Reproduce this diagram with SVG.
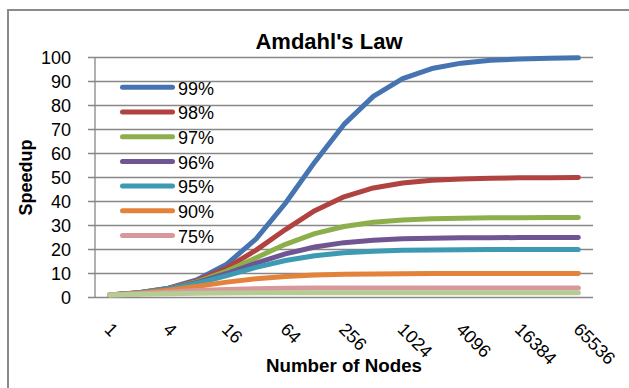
<svg xmlns="http://www.w3.org/2000/svg" width="629" height="388" viewBox="0 0 629 388">
  <style>
    text { font-family: "Liberation Sans", Arial, sans-serif; fill: #000; }
    .tick { font-size: 18px; }
    .ylab { text-anchor: end; }
    .title { font-size: 22px; font-weight: bold; text-anchor: middle; }
    .axt { font-size: 18px; font-weight: bold; text-anchor: middle; }
    .grid { stroke: #878787; stroke-width: 1.3; fill: none; }
    .frame { stroke: #8a8a8a; stroke-width: 2; fill: #fff; }
    .s { fill: none; stroke-width: 5; stroke-linecap: round; stroke-linejoin: round; }
    .p99 { stroke: #4674B1; }
    .p98 { stroke: #B0423F; }
    .p97 { stroke: #8DAF4B; }
    .p96 { stroke: #6F5591; }
    .p95 { stroke: #3C9AB3; }
    .p90 { stroke: #E3823A; }
    .p75 { stroke: #D8979A; }
    .p50 { stroke: #B5CC93; }
  </style>

  <rect width="629" height="388" fill="#fff"/>
  <!-- chart frame (right and bottom edges run past the canvas) -->
  <rect id="frame" class="frame" x="8" y="10" width="640" height="400"/>

  <text id="title" class="title" x="329" y="48.5">Amdahl's Law</text>

  <!-- horizontal gridlines with ticks, 0..100 step 10 -->
  <g id="gridlines" class="grid">
    <path d="M88 57.5H593M88 81.5H593M88 105.5H593M88 129.5H593M88 153.5H593M88 177.5H593M88 201.5H593M88 225.5H593M88 249.5H593M88 273.5H593M88 297.5H593"/>
    <path d="M95 57.5V297.5"/>
  </g>

  <g id="y-labels" class="tick ylab">
    <text x="71" y="63.8">100</text>
    <text x="71" y="87.8">90</text>
    <text x="71" y="111.8">80</text>
    <text x="71" y="135.8">70</text>
    <text x="71" y="159.8">60</text>
    <text x="71" y="183.8">50</text>
    <text x="71" y="207.8">40</text>
    <text x="71" y="231.8">30</text>
    <text x="71" y="255.8">20</text>
    <text x="71" y="279.8">10</text>
    <text x="71" y="303.8">0</text>
  </g>

  <g id="x-labels" class="tick">
    <text transform="translate(103.6 330.5) rotate(45)">1</text>
    <text transform="translate(162.2 330.5) rotate(45)">4</text>
    <text transform="translate(220.8 330.5) rotate(45)">16</text>
    <text transform="translate(279.4 330.5) rotate(45)">64</text>
    <text transform="translate(338.0 330.5) rotate(45)">256</text>
    <text transform="translate(396.6 330.5) rotate(45)">1024</text>
    <text transform="translate(455.2 330.5) rotate(45)">4096</text>
    <text transform="translate(513.8 330.5) rotate(45)">16384</text>
    <text transform="translate(572.4 330.5) rotate(45)">65536</text>
  </g>

  <text id="y-title" class="axt" font-size="17" transform="translate(31.5 177.5) rotate(-90)">Speedup</text>
  <text id="x-title" class="axt" x="344" y="371.5" textLength="156" lengthAdjust="spacingAndGlyphs">Number of Nodes</text>

  <!-- speedup series, S = 1/((1-p)+p/N), N = 1..65536 -->
  <g id="series">
    <polyline id="s99" class="s p99" points="109.65,295.1 138.94,292.75 168.24,288.18 197.53,279.56 226.83,264.11 256.12,238.87 285.41,203.27 314.71,162.17 344.00,124.43 373.30,96.38 402.59,78.67 431.88,68.56 461.18,63.16 490.47,60.36 519.77,58.94 549.06,58.22 578.35,57.86"/>
    <polyline id="s98" class="s p98" points="109.65,295.1 138.94,292.79 168.24,288.44 197.53,280.66 226.83,267.96 256.12,250.09 285.41,229.53 314.71,210.72 344.00,196.78 373.30,187.98 402.59,182.98 431.88,180.31 461.18,178.92 490.47,178.22 519.77,177.86 549.06,177.67 578.35,177.60"/>
    <polyline id="s97" class="s p97" points="109.65,295.1 138.94,292.84 168.24,288.69 197.53,281.63 226.83,271.02 256.12,257.71 285.41,244.35 314.71,233.63 344.00,226.47 373.30,222.25 402.59,219.95 431.88,218.74 461.18,218.13 490.47,217.82 519.77,217.66 549.06,217.58 578.35,217.54"/>
    <polyline id="s96" class="s p96" points="109.65,295.1 138.94,292.88 168.24,288.93 197.53,282.5 226.83,273.5 256.12,263.21 285.41,253.86 314.71,246.97 344.00,242.64 373.30,240.19 402.59,238.87 431.88,238.20 461.18,237.85 490.47,237.68 519.77,237.59 549.06,237.54 578.35,237.52"/>
    <polyline id="s95" class="s p95" points="109.65,295.1 138.94,292.93 168.24,289.15 197.53,283.28 226.83,275.56 256.12,267.38 285.41,260.49 314.71,255.70 344.00,252.82 373.30,251.22 402.59,250.37 431.88,249.94 461.18,249.72 490.47,249.61 519.77,249.56 549.06,249.53 578.35,249.51"/>
    <polyline id="s90" class="s p90" points="109.65,295.1 138.94,293.14 168.24,290.12 197.53,286.21 226.83,282.14 256.12,278.77 285.41,276.46 314.71,275.08 344.00,274.32 373.30,273.92 402.59,273.71 431.88,273.61 461.18,273.55 490.47,273.53 519.77,273.51 549.06,273.51 578.35,273.50"/>
    <polyline id="s75" class="s p75" points="109.65,295.1 138.94,293.66 168.24,292.01 197.53,290.52 226.83,289.42 256.12,288.72 285.41,288.33 314.71,288.12 344.00,288.01 373.30,287.96 402.59,287.93 431.88,287.91 461.18,287.90 578.35,287.90"/>
    <polyline id="s50" class="s p50" points="109.65,295.1 138.94,294.3 168.24,293.66 197.53,293.23 226.83,292.98 256.12,292.85 285.41,292.77 314.71,292.74 344.00,292.72 373.30,292.71 402.59,292.70 578.35,292.70"/>
  </g>

  <!-- legend -->
  <g id="legend">
    <g id="legend-99"><path class="s p99" d="M122.5 87.3H172.5"/><text class="tick" x="178" y="94.5">99%</text></g>
    <g id="legend-98"><path class="s p98" d="M122.5 112H172.5"/><text class="tick" x="178" y="119.2">98%</text></g>
    <g id="legend-97"><path class="s p97" d="M122.5 136.7H172.5"/><text class="tick" x="178" y="143.9">97%</text></g>
    <g id="legend-96"><path class="s p96" d="M122.5 161.4H172.5"/><text class="tick" x="178" y="168.6">96%</text></g>
    <g id="legend-95"><path class="s p95" d="M122.5 186.1H172.5"/><text class="tick" x="178" y="193.3">95%</text></g>
    <g id="legend-90"><path class="s p90" d="M122.5 210.8H172.5"/><text class="tick" x="178" y="218">90%</text></g>
    <g id="legend-75"><path class="s p75" d="M122.5 235.5H172.5"/><text class="tick" x="178" y="242.7">75%</text></g>
  </g>
</svg>
